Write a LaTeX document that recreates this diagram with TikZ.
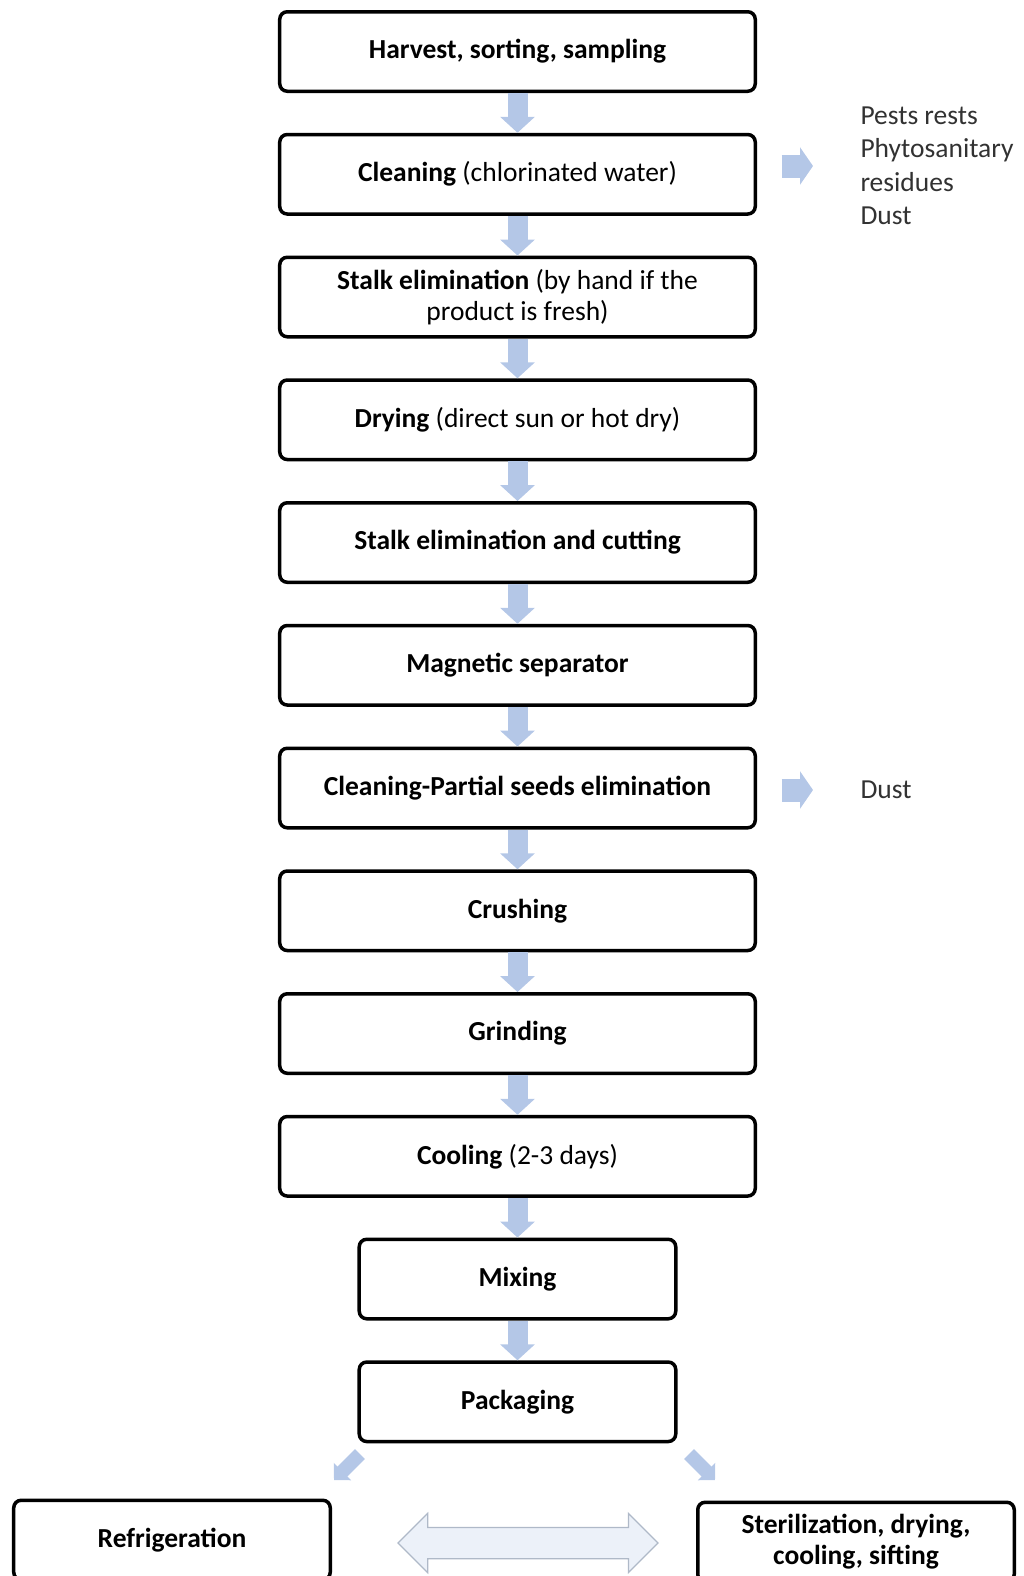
\documentclass[tikz,border=0pt]{standalone}
\usepackage{fontspec}
\setmainfont{Carlito}
\usetikzlibrary{positioning,calc,arrows.meta,shapes.arrows}
\definecolor{flowblue}{RGB}{180,199,231}
\definecolor{paleblue}{RGB}{236,241,249}
\definecolor{paleedge}{RGB}{175,185,200}
\definecolor{noteink}{RGB}{50,50,50}

\begin{document}
\begin{tikzpicture}[
    x=0.4pt, y=-0.4pt,
    node distance=15.9pt,
    box/.style={rectangle, draw, line width=1.4pt, rounded corners=3pt, align=center, minimum width=190.2pt, minimum height=31.8pt, inner sep=2pt, font=\fontsize{11}{12.4}\selectfont},
    smallbox/.style={box, minimum width=126.6pt},
    flow/.style={flowblue, line width=8pt, -{Triangle[width=13.6pt,length=6.4pt]}},
    side/.style={flowblue, line width=9.2pt, -{Triangle[width=14.8pt,length=5.2pt]}, shorten <=9.8pt, shorten >=18.8pt},
    diag/.style={flowblue, line width=5.6pt, -{Triangle[width=9.6pt,length=4.8pt]}},
    note/.style={align=left, inner sep=0pt, anchor=west, text=noteink, font=\fontsize{11}{13.4}\selectfont},
    twoway/.style={double arrow, draw=paleedge, fill=paleblue, line width=0.5pt, minimum height=104pt, inner xsep=0pt, inner ysep=6pt, double arrow head extend=5.6pt}
]
    \useasboundingbox (0,0) rectangle (1024,1576);

    % main line
    \node[box] (harvest) at (517.5,51.5) {\textbf{Harvest, sorting, sampling}};
    \node[box, below=of harvest] (clean) {\textbf{Cleaning} (chlorinated water)};
    \node[box, below=of clean] (stalk) {\textbf{Stalk elimination} (by hand if the\\product is fresh)};
    \node[box, below=of stalk] (drying) {\textbf{Drying} (direct sun or hot dry)};
    \node[box, below=of drying] (cutting) {\textbf{Stalk elimination and cutting}};
    \node[box, below=of cutting] (magnet) {\textbf{Magnetic separator}};
    \node[box, below=of magnet] (seeds) {\textbf{Cleaning-Partial seeds elimination}};
    \node[box, below=of seeds] (crush) {\textbf{Crushing}};
    \node[box, below=of crush] (grind) {\textbf{Grinding}};
    \node[box, below=of grind] (cool) {\textbf{Cooling} (2-3 days)};
    \node[smallbox, below=of cool] (mix) {\textbf{Mixing}};
    \node[smallbox, below=of mix] (pack) {\textbf{Packaging}};
    \node[smallbox] (refr) at (172,1540) {\textbf{Refrigeration}};
    \node[smallbox] (steril) at (856,1542) {\textbf{Sterilization, drying,}\\\textbf{cooling, sifting}};

    % removed material
    \node[note] (rests) at (860,166) {Pests rests\\Phytosanitary\\residues\\Dust};
    \node[note] (dust) at (860,790) {Dust};

    \draw[flow] (harvest) -- (clean);
    \draw[flow] (clean) -- (stalk);
    \draw[flow] (stalk) -- (drying);
    \draw[flow] (drying) -- (cutting);
    \draw[flow] (cutting) -- (magnet);
    \draw[flow] (magnet) -- (seeds);
    \draw[flow] (seeds) -- (crush);
    \draw[flow] (crush) -- (grind);
    \draw[flow] (grind) -- (cool);
    \draw[flow] (cool) -- (mix);
    \draw[flow] (mix) -- (pack);

    \draw[side] (clean.east |- rests.west) -- (rests.west);
    \draw[side] (seeds.east |- dust.west) -- (dust.west);

    % split after packaging
    \coordinate (ltail) at (360,1454);
    \coordinate (lhead) at (334,1480);
    \coordinate (rtail) at (689,1454);
    \coordinate (rhead) at (715,1480);
    \draw[diag] (ltail) -- (lhead);
    \draw[diag] (rtail) -- (rhead);

    \node[twoway] (swap) at (528,1543) {};
\end{tikzpicture}
\end{document}
